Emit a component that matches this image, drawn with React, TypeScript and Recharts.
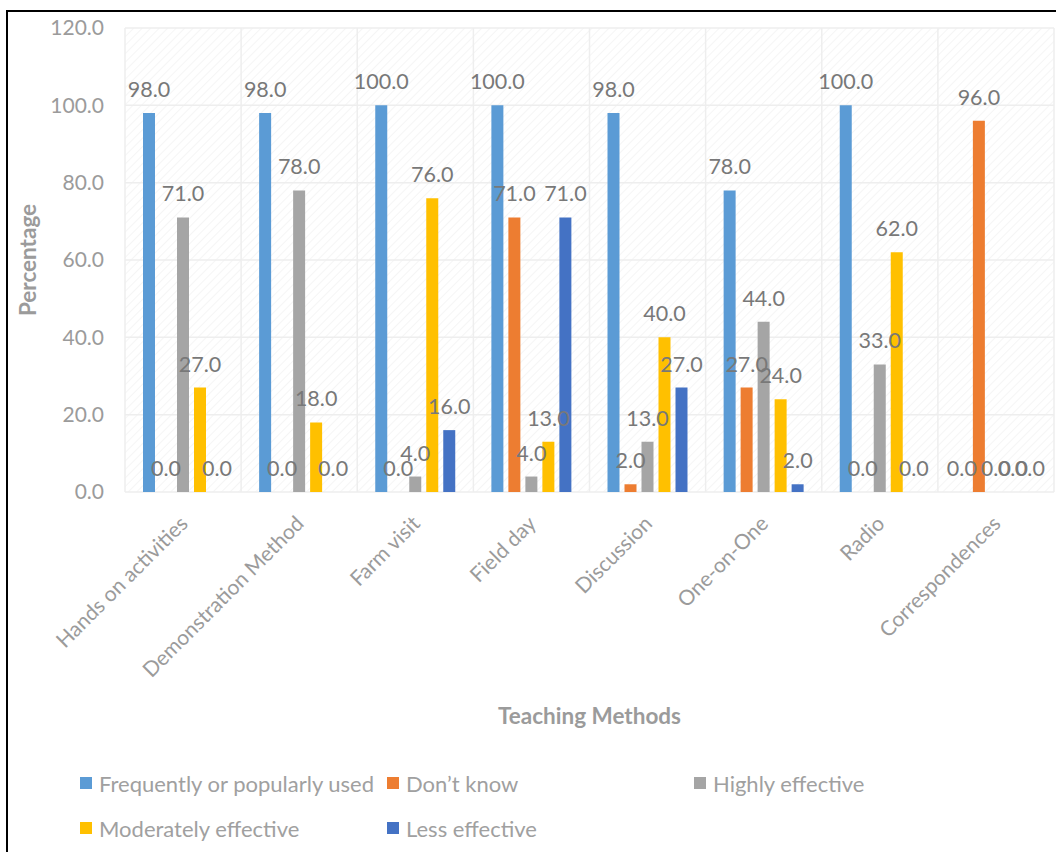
import { BarChart, Bar, XAxis, YAxis, CartesianGrid, LabelList, Legend } from 'recharts';

const CATEGORIES = [
  'Hands on activities',
  'Demonstration Method',
  'Farm visit',
  'Field day',
  'Discussion',
  'One-on-One',
  'Radio',
  'Correspondences'
];

const FREQUENTLY = [98, 98, 100, 100, 98, 78, 100, 0];
const DONT_KNOW = [0, 0, 0, 71, 2, 27, 0, 96];
const HIGHLY = [71, 78, 4, 4, 13, 44, 33, 0];
const MODERATELY = [27, 18, 76, 13, 40, 24, 62, 0];
const LESS = [0, 0, 16, 71, 27, 2, 0, 0];

const Y_TICKS = [0, 20, 40, 60, 80, 100, 120];

const SERIES = [
  { key: 'frequently', name: 'Frequently or popularly used', values: FREQUENTLY, color: '#5B9BD5' },
  { key: 'dontKnow', name: 'Don\u2019t know', values: DONT_KNOW, color: '#ED7D31' },
  { key: 'highly', name: 'Highly effective', values: HIGHLY, color: '#A5A5A5' },
  { key: 'moderately', name: 'Moderately effective', values: MODERATELY, color: '#FFC000' },
  { key: 'less', name: 'Less effective', values: LESS, color: '#4472C4' }
];

const data = CATEGORIES.map((name, i) => {
  const row: Record<string, string | number> = { name };
  SERIES.forEach(s => { row[s.key] = s.values[i]; });
  return row;
});

const AXIS_TEXT = '#9b9b9b';
const LABEL_TEXT = '#787878';

const XTick = ({ x, y, payload }: any) => (
  <g transform={`translate(${x + 6},${y + 25})`}>
    <text textAnchor="end" transform="rotate(-45)" fill={AXIS_TEXT} fontSize={21}>
      {payload.value}
    </text>
  </g>
);

// value label above each bar, zero bars included
const ValueLabel = (props: any) => {
  const { x, y, width, value } = props;
  if (x == null || y == null) return null;
  return (
    <text x={Number(x) + Number(width) / 2} y={Number(y) - 16} textAnchor="middle" fill={LABEL_TEXT} fontSize={21.5}>
      {Number(value).toFixed(1)}
    </text>
  );
};

// zero bars get a hairline height so recharts keeps their label
const zeroKeeper = (v: number) => (v === 0 ? 0.01 : 0);

// legend laid out in 3 columns like the excel one
const LegendBox = () => (
  <div style={{ display: 'grid', gridTemplateColumns: '307px 307px 307px', rowGap: 17 }}>
    {SERIES.map(s => (
      <div key={s.key} style={{ display: 'flex', alignItems: 'center', height: 28 }}>
        <span style={{ width: 12, height: 12, background: s.color, marginRight: 7, display: 'inline-block' }} />
        <span style={{ color: '#a0a0a0', fontSize: 22 }}>{s.name}</span>
      </div>
    ))}
  </div>
);

export default function App() {
  return (
    <div style={{ position: 'fixed', left: 0, top: 0, width: 1056, height: 852, overflow: 'hidden', background: '#fff', fontFamily: 'Lato, sans-serif' }}>
      <svg width={0} height={0} style={{ position: 'absolute' }}>
        <defs>
          <pattern id="hatch" width="6" height="6" patternUnits="userSpaceOnUse" patternTransform="rotate(45)">
            <rect width="6" height="6" fill="#ffffff" />
            <line x1="0" y1="0" x2="0" y2="6" stroke="#f5f5f5" strokeWidth="2" />
          </pattern>
        </defs>
      </svg>
      <div style={{ position: 'absolute', left: 6, top: 10, width: 1200, height: 1000, border: '2px solid #000', boxSizing: 'border-box' }} />
      <div style={{ position: 'absolute', left: 0, top: 0 }}>
        <BarChart
          width={1080}
          height={852}
          data={data}
          margin={{ top: 28, right: 26, left: 0, bottom: 0 }}
          barSize={12}
          barGap={5}
        >
          <CartesianGrid
            stroke="#eeeeee"
            strokeWidth={1.5}
            fill="url(#hatch)"
            fillOpacity={1}
            verticalCoordinatesGenerator={({ offset }: any) =>
              [...CATEGORIES.map((_, i) => offset.left + (i * offset.width) / CATEGORIES.length), offset.left + offset.width]
            }
          />
          <XAxis
            dataKey="name"
            interval={0}
            height={360}
            axisLine={false}
            tickLine={false}
            tick={<XTick />}
            label={{
              content: ({ viewBox }: any) => (
                <text x={viewBox.x + viewBox.width / 2} y={724} textAnchor="middle" fill={AXIS_TEXT} fontSize={22.5} fontWeight="bold">
                  Teaching Methods
                </text>
              )
            }}
          />
          <YAxis
            width={125}
            domain={[0, 120]}
            ticks={Y_TICKS}
            axisLine={false}
            tickLine={false}
            tickMargin={15}
            tickFormatter={(v: number) => v.toFixed(1)}
            tick={{ fill: AXIS_TEXT, fontSize: 21 }}
            label={{
              content: ({ viewBox }: any) => (
                <text
                  x={30}
                  y={viewBox.y + viewBox.height / 2}
                  textAnchor="middle"
                  dominantBaseline="middle"
                  transform={`rotate(-90, 30, ${viewBox.y + viewBox.height / 2})`}
                  fill={AXIS_TEXT}
                  fontSize={22.5}
                  fontWeight="bold"
                >
                  Percentage
                </text>
              )
            }}
          />
          <Legend
            verticalAlign="middle"
            align="center"
            wrapperStyle={{ top: 769, left: 80, width: 960 }}
            content={<LegendBox />}
          />
          {SERIES.map(s => (
            <Bar key={s.key} dataKey={s.key} name={s.name} fill={s.color} minPointSize={zeroKeeper} isAnimationActive={false}>
              <LabelList dataKey={s.key} content={<ValueLabel />} />
            </Bar>
          ))}
        </BarChart>
      </div>
    </div>
  );
}
